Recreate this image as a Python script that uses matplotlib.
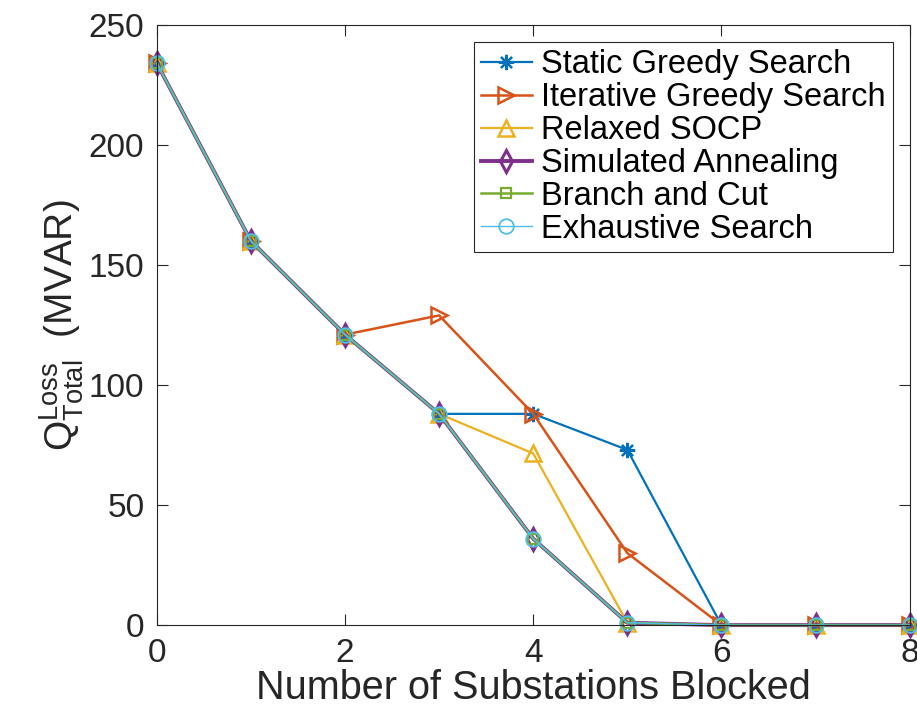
import matplotlib
matplotlib.use("Agg")
import matplotlib.pyplot as plt

plt.rcParams['font.family'] = ['Liberation Sans', 'DejaVu Sans']
plt.rcParams['mathtext.fontset'] = 'custom'
plt.rcParams['mathtext.rm'] = 'Liberation Sans'
plt.rcParams['mathtext.it'] = 'Liberation Sans'

x = [0, 1, 2, 3, 4, 5, 6, 7, 8]
static_greedy = [234, 160, 121, 88, 88, 73, 0, 0, 0]
iterative_greedy = [234, 160, 121, 129, 88, 30, 0, 0, 0]
relaxed_socp = [234, 160, 121, 88, 71.5, 1, 0, 0, 0]
simulated_annealing = [234, 160, 121, 88, 36, 1, 0, 0, 0]
branch_and_cut = [234, 160, 121, 88, 36, 1, 0, 0, 0]
exhaustive = [234, 160, 121, 88, 36, 1, 0, 0, 0]

labels = ["Static Greedy Search", "Iterative Greedy Search", "Relaxed SOCP",
          "Simulated Annealing", "Branch and Cut", "Exhaustive Search"]
xticks = [0, 2, 4, 6, 8]
yticks = [0, 50, 100, 150, 200, 250]

colors = ["#0072BD", "#D95319", "#EDB120", "#7E2F8E", "#77AC30", "#4DBEEE"]
markers = [(8, 2, 0), ">", "^", "d", "s", "o"]
msizes = [11, 12, 12, 11, 7.5, 10.5]
lws = [1.6, 1.8, 1.6, 2.8, 1.8, 1.0]
mews = [1.6, 1.8, 1.8, 2.2, 1.6, 1.3]

series = [static_greedy, iterative_greedy, relaxed_socp,
          simulated_annealing, branch_and_cut, exhaustive]

fig = plt.figure(figsize=(9.17, 7.12), dpi=100)
ax = fig.add_axes([0.171, 0.122, 0.821, 0.843])

for ys, lab, c, m, ms, lw, mew in zip(series, labels, colors, markers, msizes, lws, mews):
    ax.plot(x, ys, color=c, marker=m, markersize=ms, linewidth=lw,
            markerfacecolor='none', markeredgecolor=c, markeredgewidth=mew,
            label=lab, clip_on=False)

ax.set_xlim(0, 8)
ax.set_ylim(0, 250)
ax.set_xticks(xticks)
ax.set_yticks(yticks)
ax.tick_params(direction='in', length=8, width=0.8, colors='#262626',
               labelsize=24, top=True, right=True, pad=9)
for s in ax.spines.values():
    s.set_color('#262626')
    s.set_linewidth(0.8)

ax.set_xlabel("Number of Substations Blocked", fontsize=28.5, color='#262626', labelpad=0)
ax.set_ylabel(r"$\mathrm{Q}^{\mathrm{Loss}}_{\mathrm{Total}}$  (MVAR)", fontsize=28,
              color='#262626', labelpad=2)

leg = ax.legend(loc='upper right', fontsize=23.5, frameon=True, fancybox=False,
                edgecolor='#262626', framealpha=1, handlelength=1.55,
                handletextpad=0.28, labelspacing=0.06, borderpad=0.22,
                borderaxespad=0.52)
leg.get_frame().set_linewidth(0.8)

fig.savefig("out.png", dpi=100)
